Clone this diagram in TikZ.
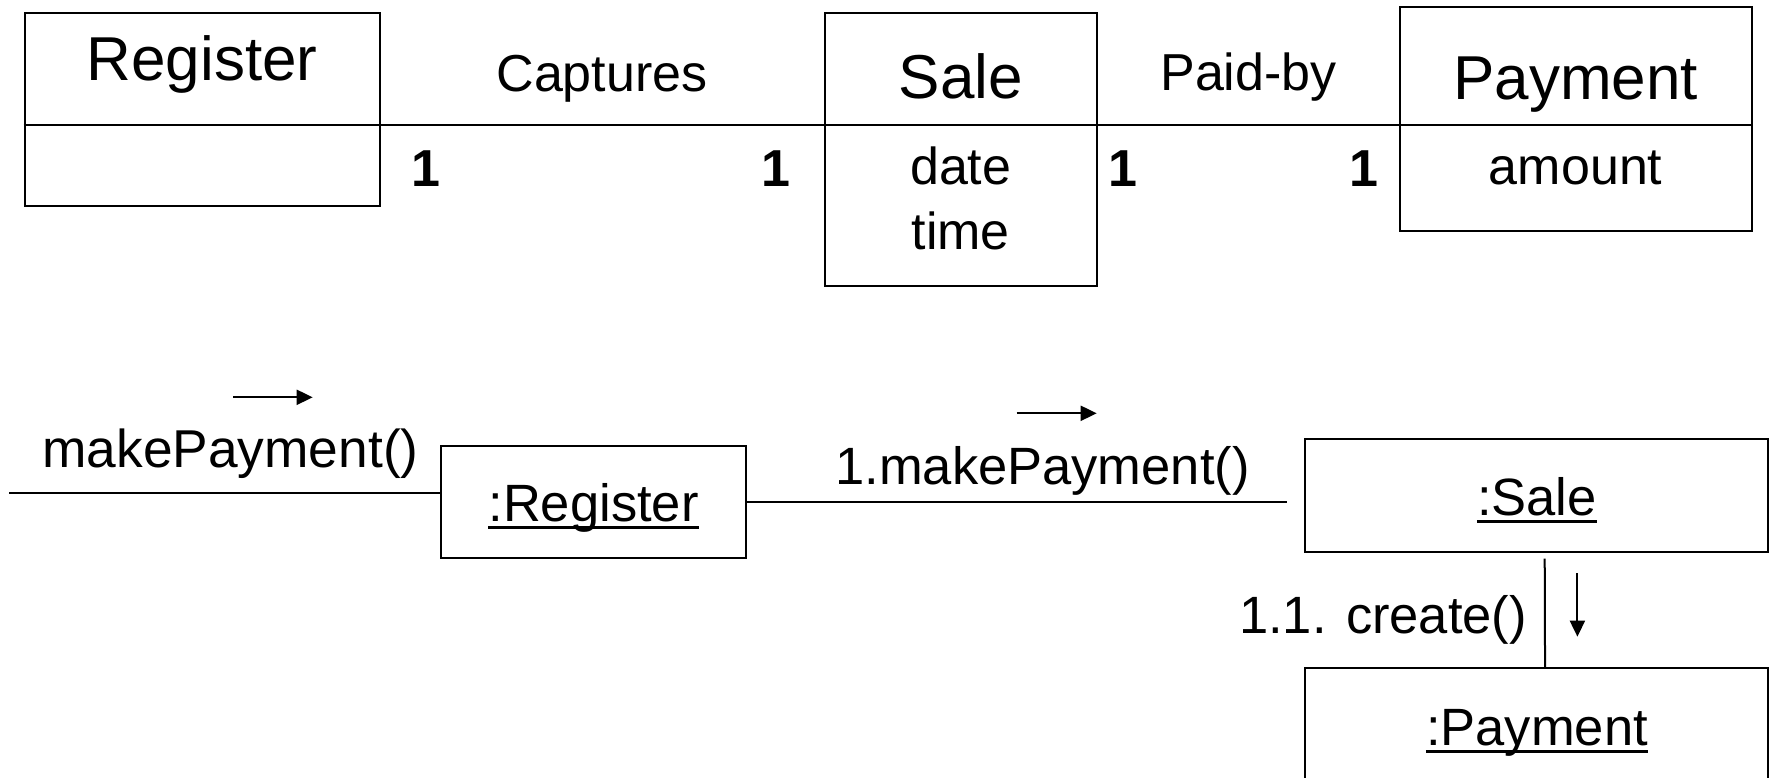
\documentclass[tikz,border=0pt]{standalone}
\usepackage{fontspec}
\setmainfont{Liberation Sans}
\usetikzlibrary{arrows.meta,calc}

\tikzset{
  box/.style={draw, line width=2pt, inner sep=0pt},
  lbl/.style={inner sep=0pt, anchor=base, font=\fontsize{52.5}{60}\selectfont},
  title/.style={lbl, font=\fontsize{62}{70}\selectfont},
  attr/.style={lbl, font=\fontsize{52}{60}\selectfont},
  mult/.style={lbl, font=\fontsize{52}{60}\selectfont\bfseries},
  conn/.style={line width=2pt},
  msg/.style={line width=2pt, -{Triangle[length=16pt,width=15pt]}},
  uline/.style={line width=3pt},
}

\begin{document}
\begin{tikzpicture}[x=1pt,y=-1pt]
\useasboundingbox (0,0) rectangle (1769,778);
\clip (0,0) rectangle (1769,778);

% ---------- class diagram ----------
\node[box, minimum width=354.8pt, minimum height=192.4pt] (reg)  at (202.1,109.5) {};
\node[box, minimum width=272pt,   minimum height=272.4pt] (sale) at (960.7,149.5) {};
\node[box, minimum width=352.3pt, minimum height=223.4pt] (pay)  at (1575.65,119) {};

% compartment dividers
\draw[conn] ([yshift=-112.4pt]reg.north west)  -- ([yshift=-112.4pt]reg.north east);
\draw[conn] ([yshift=-112.4pt]sale.north west) -- ([yshift=-112.4pt]sale.north east);
\draw[conn] ([yshift=-118.4pt]pay.north west)  -- ([yshift=-118.4pt]pay.north east);

% class names and attributes
\node[title] (regname)  at (202.1,81)    {Register};
\node[title] (salename) at (960.7,98.3)  {Sale};
\node[title] (payname)  at (1575.65,100) {Payment};
\node[attr]  (date)     at (960.7,185)   {date};
\node[attr]  (time)     at (960.7,249)   {time};
\node[attr]  (amount)   at (1575.65,185) {amount};

% associations
\draw[conn] ([yshift=-112.4pt]reg.north east)  -- ([yshift=-112.4pt]sale.north west);
\draw[conn] ([yshift=-112.4pt]sale.north east) -- ([yshift=-118.4pt]pay.north west);
\node[attr] (captures) at (602,91.7)    {Captures};
\node[attr] (paidby)   at (1248.5,90.7) {Paid-by};

% multiplicities
\node[mult] (m1) at (426,186)  {1};
\node[mult] (m2) at (776,186)  {1};
\node[mult] (m3) at (1123,186) {1};
\node[mult] (m4) at (1364,186) {1};

% ---------- collaboration diagram ----------
\node[box, minimum width=305pt,   minimum height=112pt]   (regobj)  at (593.5,502)     {};
\node[box, minimum width=463.2pt, minimum height=112.4pt] (saleobj) at (1536.1,495.5)  {};
\node[box, minimum width=462.5pt, minimum height=131.7pt] (payobj)  at (1536.45,734.15) {};

\node[lbl] (regobjname)  at (593.5,521) {:Register};
\node[lbl] (saleobjname) at (1537,515)  {:Sale};
\node[lbl] (payobjname)  at (1537,745)  {:Payment};
\foreach \n in {regobjname,saleobjname,payobjname}
  \draw[uline] ([yshift=-6pt]\n.base west) -- ([yshift=-6pt]\n.base east);

% links
\coordinate (start) at (9,493.3);
\draw[conn] (start) -- (start -| regobj.west);
\draw[conn] (regobj.east) -- ([xshift=-16.5pt]regobj.east -| saleobj.west);
\draw[conn] ([xshift=8.6pt,yshift=-6pt]saleobj.south) -- ([xshift=8.6pt]payobj.north);

% messages
\node[lbl, font=\fontsize{53.3}{60}\selectfont] (msg0) at (230.5,467) {makePayment()};
\node[lbl] (msg1) at (1042.5,484) {1.makePayment()};
\node[lbl] (msg2) at (1383,633)   {1.1. create()};

\coordinate (a0s) at (233.3,397.3);  \coordinate (a0e) at (312.7,397.3);
\coordinate (a1s) at (1016.7,413.3); \coordinate (a1e) at (1096.7,413.3);
\coordinate (a2s) at (1577.4,573.3); \coordinate (a2e) at (1577.4,636.7);
\draw[msg] (a0s) -- (a0e);
\draw[msg] (a1s) -- (a1e);
\draw[msg] (a2s) -- (a2e);
\end{tikzpicture}
\end{document}
